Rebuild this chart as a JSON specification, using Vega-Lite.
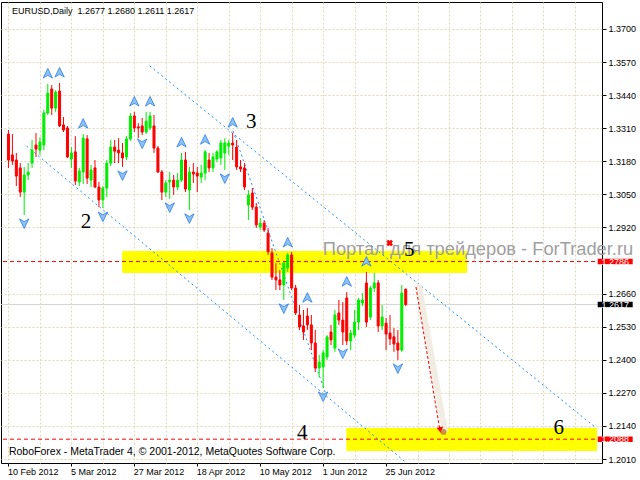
{
"$schema":"https://vega.github.io/schema/vega-lite/v6.json",
"width":601,"height":461,
"autosize":{"type":"none"},
"padding":{"left":1,"top":2,"right":38,"bottom":17},
"background":"#ffffff",
"config":{"view":{"stroke":"#000000","strokeWidth":1},"font":"Liberation Sans","axis":{"labelOverlap":false,"labelSeparation":0}},
"datasets":{
"bars":[
{"i":0,"o":1.3287,"h":1.3303,"l":1.3154,"c":1.3185},
{"i":1,"o":1.3205,"h":1.3287,"l":1.3166,"c":1.3181},
{"i":2,"o":1.3185,"h":1.3213,"l":1.3083,"c":1.3122},
{"i":3,"o":1.3154,"h":1.3173,"l":1.3040,"c":1.3059},
{"i":4,"o":1.3059,"h":1.3158,"l":1.2969,"c":1.3126},
{"i":5,"o":1.3126,"h":1.3173,"l":1.3106,"c":1.3138},
{"i":6,"o":1.3173,"h":1.3264,"l":1.3154,"c":1.3224},
{"i":7,"o":1.3244,"h":1.3291,"l":1.3197,"c":1.3228},
{"i":8,"o":1.3224,"h":1.3275,"l":1.3205,"c":1.3256},
{"i":9,"o":1.3244,"h":1.3382,"l":1.3224,"c":1.3370},
{"i":10,"o":1.3370,"h":1.3484,"l":1.3362,"c":1.3448},
{"i":11,"o":1.3464,"h":1.3480,"l":1.3362,"c":1.3389},
{"i":12,"o":1.3389,"h":1.3460,"l":1.3374,"c":1.3452},
{"i":13,"o":1.3456,"h":1.3488,"l":1.3315,"c":1.3319},
{"i":14,"o":1.3323,"h":1.3354,"l":1.3295,"c":1.3303},
{"i":15,"o":1.3311,"h":1.3319,"l":1.3193,"c":1.3197},
{"i":16,"o":1.3189,"h":1.3236,"l":1.3154,"c":1.3213},
{"i":17,"o":1.3217,"h":1.3279,"l":1.3087,"c":1.3103},
{"i":18,"o":1.3099,"h":1.3154,"l":1.3083,"c":1.3142},
{"i":19,"o":1.3138,"h":1.3287,"l":1.3091,"c":1.3271},
{"i":20,"o":1.3268,"h":1.3283,"l":1.3091,"c":1.3114},
{"i":21,"o":1.3106,"h":1.3166,"l":1.3079,"c":1.3146},
{"i":22,"o":1.3154,"h":1.3185,"l":1.3075,"c":1.3079},
{"i":23,"o":1.3079,"h":1.3099,"l":1.3000,"c":1.3028},
{"i":24,"o":1.3028,"h":1.3083,"l":1.2996,"c":1.3075},
{"i":25,"o":1.3075,"h":1.3185,"l":1.3040,"c":1.3173},
{"i":26,"o":1.3173,"h":1.3264,"l":1.3162,"c":1.3236},
{"i":27,"o":1.3236,"h":1.3264,"l":1.3173,"c":1.3220},
{"i":28,"o":1.3224,"h":1.3271,"l":1.3173,"c":1.3213},
{"i":29,"o":1.3213,"h":1.3252,"l":1.3158,"c":1.3193},
{"i":30,"o":1.3197,"h":1.3279,"l":1.3185,"c":1.3268},
{"i":31,"o":1.3268,"h":1.3370,"l":1.3260,"c":1.3358},
{"i":32,"o":1.3358,"h":1.3374,"l":1.3295,"c":1.3311},
{"i":33,"o":1.3315,"h":1.3330,"l":1.3271,"c":1.3311},
{"i":34,"o":1.3319,"h":1.3350,"l":1.3283,"c":1.3295},
{"i":35,"o":1.3295,"h":1.3374,"l":1.3287,"c":1.3338},
{"i":36,"o":1.3311,"h":1.3374,"l":1.3303,"c":1.3358},
{"i":37,"o":1.3319,"h":1.3362,"l":1.3213,"c":1.3232},
{"i":38,"o":1.3232,"h":1.3240,"l":1.3134,"c":1.3138},
{"i":39,"o":1.3138,"h":1.3146,"l":1.3028,"c":1.3059},
{"i":40,"o":1.3059,"h":1.3106,"l":1.3040,"c":1.3095},
{"i":41,"o":1.3099,"h":1.3138,"l":1.3032,"c":1.3106},
{"i":42,"o":1.3106,"h":1.3126,"l":1.3048,"c":1.3079},
{"i":43,"o":1.3079,"h":1.3134,"l":1.3067,"c":1.3106},
{"i":44,"o":1.3106,"h":1.3213,"l":1.3099,"c":1.3185},
{"i":45,"o":1.3185,"h":1.3217,"l":1.3059,"c":1.3071},
{"i":46,"o":1.3067,"h":1.3158,"l":1.2989,"c":1.3138},
{"i":47,"o":1.3138,"h":1.3173,"l":1.3095,"c":1.3130},
{"i":48,"o":1.3134,"h":1.3158,"l":1.3059,"c":1.3122},
{"i":49,"o":1.3118,"h":1.3166,"l":1.3095,"c":1.3134},
{"i":50,"o":1.3134,"h":1.3224,"l":1.3106,"c":1.3217},
{"i":51,"o":1.3185,"h":1.3213,"l":1.3138,"c":1.3154},
{"i":52,"o":1.3154,"h":1.3213,"l":1.3138,"c":1.3197},
{"i":53,"o":1.3189,"h":1.3224,"l":1.3177,"c":1.3217},
{"i":54,"o":1.3193,"h":1.3264,"l":1.3166,"c":1.3252},
{"i":55,"o":1.3213,"h":1.3271,"l":1.3146,"c":1.3252},
{"i":56,"o":1.3240,"h":1.3264,"l":1.3205,"c":1.3252},
{"i":57,"o":1.3252,"h":1.3291,"l":1.3185,"c":1.3244},
{"i":58,"o":1.3236,"h":1.3264,"l":1.3146,"c":1.3158},
{"i":59,"o":1.3158,"h":1.3185,"l":1.3138,"c":1.3150},
{"i":60,"o":1.3154,"h":1.3173,"l":1.3067,"c":1.3079},
{"i":61,"o":1.3008,"h":1.3067,"l":1.2949,"c":1.3048},
{"i":62,"o":1.3055,"h":1.3075,"l":1.2989,"c":1.3000},
{"i":63,"o":1.3000,"h":1.3016,"l":1.2918,"c":1.2930},
{"i":64,"o":1.2922,"h":1.2957,"l":1.2910,"c":1.2937},
{"i":65,"o":1.2937,"h":1.2949,"l":1.2902,"c":1.2910},
{"i":66,"o":1.2898,"h":1.2918,"l":1.2812,"c":1.2824},
{"i":67,"o":1.2820,"h":1.2839,"l":1.2714,"c":1.2725},
{"i":68,"o":1.2725,"h":1.2780,"l":1.2674,"c":1.2714},
{"i":69,"o":1.2714,"h":1.2753,"l":1.2674,"c":1.2694},
{"i":70,"o":1.2694,"h":1.2784,"l":1.2635,"c":1.2780},
{"i":71,"o":1.2761,"h":1.2820,"l":1.2745,"c":1.2812},
{"i":72,"o":1.2812,"h":1.2824,"l":1.2674,"c":1.2682},
{"i":73,"o":1.2682,"h":1.2694,"l":1.2576,"c":1.2584},
{"i":74,"o":1.2576,"h":1.2615,"l":1.2517,"c":1.2529},
{"i":75,"o":1.2533,"h":1.2596,"l":1.2478,"c":1.2509},
{"i":76,"o":1.2572,"h":1.2603,"l":1.2517,"c":1.2537},
{"i":77,"o":1.2537,"h":1.2576,"l":1.2438,"c":1.2466},
{"i":78,"o":1.2466,"h":1.2517,"l":1.2352,"c":1.2368},
{"i":79,"o":1.2368,"h":1.2419,"l":1.2332,"c":1.2391},
{"i":80,"o":1.2372,"h":1.2438,"l":1.2289,"c":1.2427},
{"i":81,"o":1.2411,"h":1.2497,"l":1.2399,"c":1.2490},
{"i":82,"o":1.2509,"h":1.2537,"l":1.2458,"c":1.2478},
{"i":83,"o":1.2446,"h":1.2596,"l":1.2431,"c":1.2576},
{"i":84,"o":1.2584,"h":1.2635,"l":1.2537,"c":1.2556},
{"i":85,"o":1.2556,"h":1.2627,"l":1.2458,"c":1.2509},
{"i":86,"o":1.2643,"h":1.2666,"l":1.2458,"c":1.2474},
{"i":87,"o":1.2474,"h":1.2517,"l":1.2438,"c":1.2505},
{"i":88,"o":1.2497,"h":1.2596,"l":1.2486,"c":1.2548},
{"i":89,"o":1.2548,"h":1.2643,"l":1.2517,"c":1.2635},
{"i":90,"o":1.2623,"h":1.2662,"l":1.2611,"c":1.2635},
{"i":91,"o":1.2702,"h":1.2745,"l":1.2529,"c":1.2548},
{"i":92,"o":1.2568,"h":1.2690,"l":1.2556,"c":1.2682},
{"i":93,"o":1.2682,"h":1.2741,"l":1.2666,"c":1.2702},
{"i":94,"o":1.2702,"h":1.2714,"l":1.2509,"c":1.2533},
{"i":95,"o":1.2533,"h":1.2615,"l":1.2517,"c":1.2568},
{"i":96,"o":1.2544,"h":1.2564,"l":1.2438,"c":1.2501},
{"i":97,"o":1.2505,"h":1.2576,"l":1.2458,"c":1.2482},
{"i":98,"o":1.2490,"h":1.2525,"l":1.2431,"c":1.2462},
{"i":99,"o":1.2466,"h":1.2517,"l":1.2399,"c":1.2438},
{"i":100,"o":1.2438,"h":1.2694,"l":1.2431,"c":1.2662},
{"i":101,"o":1.2677,"h":1.2680,"l":1.2611,"c":1.2617}
],
"bands":[{"i":28.9,"i2":116.6,"p":1.2828,"p2":1.2741},{"i":85.9,"i2":149.625,"p":1.2132,"p2":1.2042}],
"levels":[{"p":1.2786,"kind":"level","lab":"1.2786"},{"p":1.2088,"kind":"level","lab":"1.2088"},{"p":1.2617,"kind":"bid","lab":"1.2617"}],
"tlines":[
{"id":"a","i":35.9,"p":1.3555},{"id":"a","i":149.1,"p":1.2136},
{"id":"b","i":57.1,"p":1.3299},{"id":"b","i":80.6,"p":1.2269},
{"id":"c","i":4.6,"p":1.3240},{"id":"c","i":101.1,"p":1.1996}
],
"arrow":[{"i":103.6,"p":1.2686},{"i":109.6,"p":1.2132}],
"trail":[{"i":104.4,"p":1.2686},{"i":110.9,"p":1.2124}],
"tip":[{"i":109.8,"p":1.2124}],
"target":[{"i":110.6,"p":1.2116}],
"cross":[{"i":96.9,"p":1.2859}],
"fract":[
{"i":10,"v":1.3484,"d":"up"},{"i":13,"v":1.3488,"d":"up"},{"i":19,"v":1.3287,"d":"up"},{"i":32,"v":1.3374,"d":"up"},{"i":36,"v":1.3374,"d":"up"},{"i":44,"v":1.3213,"d":"up"},{"i":50,"v":1.3224,"d":"up"},{"i":57,"v":1.3291,"d":"up"},{"i":71,"v":1.2820,"d":"up"},{"i":76,"v":1.2603,"d":"up"},{"i":86,"v":1.2666,"d":"up"},{"i":91,"v":1.2745,"d":"up"},
{"i":4,"v":1.2969,"d":"down"},{"i":24,"v":1.2996,"d":"down"},{"i":29,"v":1.3158,"d":"down"},{"i":34,"v":1.3283,"d":"down"},{"i":41,"v":1.3032,"d":"down"},{"i":46,"v":1.2989,"d":"down"},{"i":55,"v":1.3146,"d":"down"},{"i":70,"v":1.2635,"d":"down"},{"i":80,"v":1.2289,"d":"down"},{"i":85,"v":1.2458,"d":"down"},{"i":99,"v":1.2399,"d":"down"}
],
"waves":[{"i":19.7,"p":1.2942,"t":"2"},{"i":61.7,"p":1.3335,"t":"3"},{"i":74.7,"p":1.2112,"t":"4"},{"i":101.9,"p":1.2831,"t":"5"},{"i":139.9,"p":1.2132,"t":"6"}],
"watermark":[{"i":79.9,"p":1.2831,"t":"Портал для трейдеров - ForTrader.ru"}],
"title":[{"i":0.875,"p":1.3771,"t":"EURUSD,Daily\u00a0 1.2677 1.2680 1.2611 1.2617"}],
"credit":[{"i":0.125,"p":1.2038,"t":"RoboForex - MetaTrader 4, © 2001-2012, MetaQuotes Software Corp."}]
},
"layer":[
{"data":{"name":"bands"},"mark":{"type":"rect","color":"#ffff00"},
 "encoding":{
  "x":{"field":"i","type":"quantitative","scale":{"domain":[-0.625,149.625],"nice":false,"zero":false},
   "axis":{"title":null,"values":[0,8,16,24,32,40,48,56,64,72,80,88,96,104,112,120,128,136,144],"tickCount":60,"domain":false,"grid":true,"gridColor":"#dedbb4","gridDash":[2,2],"ticks":true,"tickSize":3,"tickColor":"#000000",
    "tickOpacity":{"condition":{"test":"datum.value % 16 === 0 && datum.value <= 96","value":1},"value":0},
    "labelExpr":"(datum.value % 16 === 0 && datum.value <= 96) ? ['10 Feb 2012','5 Mar 2012','27 Mar 2012','18 Apr 2012','10 May 2012','1 Jun 2012','25 Jun 2012'][datum.value/16] : ''",
    "labelAlign":"left","labelBaseline":"top","labelFont":"Liberation Sans","labelFontSize":9,"labelColor":"#000000","labelPadding":1,"labelOffset":-1,"labelOverlap":false,"labelFlush":false,"labelBound":false}},
  "x2":{"field":"i2"},
  "y":{"field":"p","type":"quantitative","scale":{"domain":[1.19944,1.38061],"nice":false,"zero":false},
   "axis":{"title":null,"orient":"right","values":[1.2010,1.2140,1.2270,1.2400,1.2530,1.2660,1.2920,1.3050,1.3180,1.3310,1.3440,1.3570,1.3700],"tickCount":60,"format":".4f","domain":false,"grid":true,"gridColor":"#dedbb4","gridDash":[2,2],"tickSize":4,"tickColor":"#000000","labelFont":"Liberation Sans","labelFontSize":9,"labelColor":"#000000","labelPadding":2,"labelOverlap":false,"labelFlush":false,"labelBound":false}},
  "y2":{"field":"p2"}}},
{"data":{"name":"watermark"},"mark":{"type":"text","align":"left","baseline":"middle","fontSize":18.3,"font":"Liberation Sans","color":"#a0a0a0"},
 "encoding":{"x":{"field":"i","type":"quantitative","scale":{"domain":[-0.625,149.625],"nice":false,"zero":false}},"y":{"field":"p","type":"quantitative","scale":{"domain":[1.19944,1.38061],"nice":false,"zero":false}},"text":{"field":"t"}}},
{"data":{"name":"levels"},"transform":[{"filter":"datum.kind === 'bid'"}],"mark":{"type":"rule","color":"#d4d4d4","strokeWidth":1},
 "encoding":{"y":{"field":"p","type":"quantitative","scale":{"domain":[1.19944,1.38061],"nice":false,"zero":false}}}},
{"data":{"name":"levels"},"transform":[{"filter":"datum.kind === 'level'"}],"mark":{"type":"rule","color":"#ff0000","strokeWidth":1,"strokeDash":[4,3]},
 "encoding":{"y":{"field":"p","type":"quantitative","scale":{"domain":[1.19944,1.38061],"nice":false,"zero":false}}}},
{"data":{"name":"tlines"},"mark":{"type":"line","color":"#1e90ff","strokeWidth":1,"strokeDash":[2,3]},
 "encoding":{"x":{"field":"i","type":"quantitative","scale":{"domain":[-0.625,149.625],"nice":false,"zero":false}},"y":{"field":"p","type":"quantitative","scale":{"domain":[1.19944,1.38061],"nice":false,"zero":false}},"detail":{"field":"id"}}},
{"data":{"name":"trail"},"mark":{"type":"line","color":"#f1ede2","strokeWidth":6,"strokeCap":"round"},
 "encoding":{"x":{"field":"i","type":"quantitative","scale":{"domain":[-0.625,149.625],"nice":false,"zero":false}},"y":{"field":"p","type":"quantitative","scale":{"domain":[1.19944,1.38061],"nice":false,"zero":false}}}},
{"data":{"name":"bars"},"mark":{"type":"rule","strokeWidth":1},
 "encoding":{"x":{"field":"i","type":"quantitative","scale":{"domain":[-0.625,149.625],"nice":false,"zero":false}},"y":{"field":"l","type":"quantitative","scale":{"domain":[1.19944,1.38061],"nice":false,"zero":false}},"y2":{"field":"h"},
  "color":{"condition":{"test":"datum.c >= datum.o","value":"#00ee00"},"value":"#ff0000"}}},
{"data":{"name":"bars"},"mark":{"type":"bar","size":2,"strokeWidth":1},
 "encoding":{"x":{"field":"i","type":"quantitative","scale":{"domain":[-0.625,149.625],"nice":false,"zero":false}},"y":{"field":"o","type":"quantitative","scale":{"domain":[1.19944,1.38061],"nice":false,"zero":false}},"y2":{"field":"c"},
  "color":{"condition":{"test":"datum.c >= datum.o","value":"#00ee00"},"value":"#ff0000"},
  "stroke":{"condition":{"test":"datum.c >= datum.o","value":"#00ee00"},"value":"#ff0000"}}},
{"data":{"name":"arrow"},"mark":{"type":"line","color":"#ff0000","strokeWidth":1,"strokeDash":[3,2]},
 "encoding":{"x":{"field":"i","type":"quantitative","scale":{"domain":[-0.625,149.625],"nice":false,"zero":false}},"y":{"field":"p","type":"quantitative","scale":{"domain":[1.19944,1.38061],"nice":false,"zero":false}}}},
{"data":{"name":"tip"},"mark":{"type":"point","shape":"triangle-down","angle":350,"size":45,"filled":true,"color":"#ff0000","opacity":1},
 "encoding":{"x":{"field":"i","type":"quantitative","scale":{"domain":[-0.625,149.625],"nice":false,"zero":false}},"y":{"field":"p","type":"quantitative","scale":{"domain":[1.19944,1.38061],"nice":false,"zero":false}}}},
{"data":{"name":"target"},"mark":{"type":"point","shape":"circle","size":35,"filled":true,"color":"#c8843c","opacity":0.9},
 "encoding":{"x":{"field":"i","type":"quantitative","scale":{"domain":[-0.625,149.625],"nice":false,"zero":false}},"y":{"field":"p","type":"quantitative","scale":{"domain":[1.19944,1.38061],"nice":false,"zero":false}}}},
{"data":{"name":"cross"},"mark":{"type":"point","shape":"cross","angle":45,"size":45,"filled":true,"color":"#ff0000","opacity":1},
 "encoding":{"x":{"field":"i","type":"quantitative","scale":{"domain":[-0.625,149.625],"nice":false,"zero":false}},"y":{"field":"p","type":"quantitative","scale":{"domain":[1.19944,1.38061],"nice":false,"zero":false}}}},
{"data":{"name":"fract"},"transform":[{"filter":"datum.d === 'up'"}],"mark":{"type":"point","shape":"M0,-1L0.85,0.75L0,0.25L-0.85,0.75Z","size":121,"filled":true,"fill":"#8cc2f8","stroke":"#2f7fe6","strokeWidth":0.8,"opacity":1,"yOffset":-10},
 "encoding":{"x":{"field":"i","type":"quantitative","scale":{"domain":[-0.625,149.625],"nice":false,"zero":false}},"y":{"field":"v","type":"quantitative","scale":{"domain":[1.19944,1.38061],"nice":false,"zero":false}}}},
{"data":{"name":"fract"},"transform":[{"filter":"datum.d === 'down'"}],"mark":{"type":"point","shape":"M0,1L0.85,-0.75L0,-0.25L-0.85,-0.75Z","size":121,"filled":true,"fill":"#8cc2f8","stroke":"#2f7fe6","strokeWidth":0.8,"opacity":1,"yOffset":8},
 "encoding":{"x":{"field":"i","type":"quantitative","scale":{"domain":[-0.625,149.625],"nice":false,"zero":false}},"y":{"field":"v","type":"quantitative","scale":{"domain":[1.19944,1.38061],"nice":false,"zero":false}}}},
{"data":{"name":"waves"},"mark":{"type":"text","align":"center","baseline":"middle","font":"Liberation Serif","fontSize":21,"color":"#000000"},
 "encoding":{"x":{"field":"i","type":"quantitative","scale":{"domain":[-0.625,149.625],"nice":false,"zero":false}},"y":{"field":"p","type":"quantitative","scale":{"domain":[1.19944,1.38061],"nice":false,"zero":false}},"text":{"field":"t"}}},
{"data":{"name":"title"},"mark":{"type":"text","align":"left","baseline":"middle","font":"Liberation Sans","fontSize":9,"color":"#000000"},
 "encoding":{"x":{"field":"i","type":"quantitative","scale":{"domain":[-0.625,149.625],"nice":false,"zero":false}},"y":{"field":"p","type":"quantitative","scale":{"domain":[1.19944,1.38061],"nice":false,"zero":false}},"text":{"field":"t"}}},
{"data":{"name":"credit"},"mark":{"type":"text","align":"left","baseline":"middle","font":"Liberation Sans","fontSize":10.5,"color":"#000000"},
 "encoding":{"x":{"field":"i","type":"quantitative","scale":{"domain":[-0.625,149.625],"nice":false,"zero":false}},"y":{"field":"p","type":"quantitative","scale":{"domain":[1.19944,1.38061],"nice":false,"zero":false}},"text":{"field":"t"}}},
{"data":{"name":"levels"},"mark":{"type":"point","shape":"M-1,-0.157L1,-0.157L1,0.157L-1,0.157Z","size":1225,"filled":true,"opacity":1,"clip":false},
 "encoding":{"x":{"datum":154.25,"type":"quantitative","scale":{"domain":[-0.625,149.625],"nice":false,"zero":false}},"y":{"field":"p","type":"quantitative","scale":{"domain":[1.19944,1.38061],"nice":false,"zero":false}},
  "color":{"field":"kind","type":"nominal","scale":{"domain":["level","bid"],"range":["#ff0000","#000000"]},"legend":null}}},
{"data":{"name":"levels"},"mark":{"type":"text","align":"center","baseline":"middle","font":"Liberation Sans","fontSize":9,"color":"#ffffff","clip":false},
 "encoding":{"x":{"datum":154.25,"type":"quantitative","scale":{"domain":[-0.625,149.625],"nice":false,"zero":false}},"y":{"field":"p","type":"quantitative","scale":{"domain":[1.19944,1.38061],"nice":false,"zero":false}},"text":{"field":"lab"}}}
]
}
